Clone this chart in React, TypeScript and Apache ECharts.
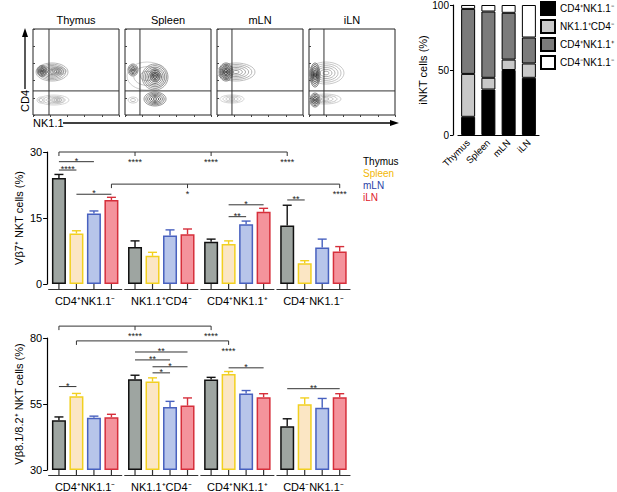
import React, { useEffect, useRef } from "react";
import * as echarts from "echarts";

const FONT = "'Liberation Sans', Arial, Helvetica, sans-serif";

// ---------- categories ----------
const tissues = ["Thymus", "Spleen", "mLN", "iLN"];
const subsets = ["CD4⁺NK1.1⁻", "NK1.1⁺CD4⁻", "CD4⁺NK1.1⁺", "CD4⁻NK1.1⁻"];

// ---------- colours ----------
const tissueLegendColors = ["#000000", "#f2b705", "#2b3fa6", "#e0202b"];
const barFill = ["#9ea5a1", "#fbe6c4", "#b7c5ea", "#f4939c"];
const barEdge = ["#111111", "#f2d020", "#4861bf", "#d62f3b"];
const subsetFill = ["#000000", "#c8c8c8", "#7b7b7b", "#ffffff"];

// ---------- iNKT composition (%), per tissue ----------
const pctCD4pNK1m = [14, 35, 50, 44];
const pctNK1pCD4m = [33, 9, 8, 11];
const pctCD4pNK1p = [50, 51, 36, 20];
const pctCD4mNK1m = [3, 5, 6, 25];

// ---------- Vb7+ NKT cells (%), per subset ----------
const vb7Thymus = [24.1, 8.4, 9.6, 13.3];
const vb7Spleen = [11.5, 6.4, 9.1, 4.7];
const vb7MLN = [16.0, 11.0, 13.6, 8.3];
const vb7ILN = [19.1, 11.3, 16.4, 7.4];
const vb7ThymusErr = [0.8, 1.4, 0.6, 4.6];
const vb7SpleenErr = [0.6, 0.8, 0.7, 0.6];
const vb7MLNErr = [0.6, 1.3, 0.7, 1.9];
const vb7ILNErr = [0.6, 1.2, 0.8, 1.1];

// ---------- Vb8.1/8.2+ NKT cells (%), per subset ----------
const vb8Thymus = [48.8, 64.4, 64.3, 46.6];
const vb8Spleen = [57.9, 63.5, 66.4, 54.9];
const vb8MLN = [49.8, 53.9, 59.0, 53.6];
const vb8ILN = [50.0, 54.4, 57.6, 57.6];
const vb8ThymusErr = [1.3, 1.5, 0.8, 2.8];
const vb8SpleenErr = [1.1, 1.4, 0.9, 2.4];
const vb8MLNErr = [0.6, 2.1, 1.1, 3.5];
const vb8ILNErr = [1.1, 2.9, 1.3, 1.3];

// ---------- significance: pairs [group, bar, group, bar, y, label] ----------
const vb7Pairs: [number, number, number, number, number, string][] = [
  [0, 0, 0, 2, 27.8, "*"],
  [0, 0, 0, 1, 25.9, "****"],
  [0, 1, 0, 3, 20.4, "*"],
  [2, 1, 2, 3, 18.0, "*"],
  [2, 1, 2, 2, 15.3, "**"],
  [3, 0, 3, 1, 19.1, "**"],
];
const vb8Pairs: [number, number, number, number, number, string][] = [
  [1, 0, 1, 3, 74.7, "**"],
  [1, 0, 1, 2, 71.7, "**"],
  [1, 1, 1, 3, 69.1, "*"],
  [1, 1, 1, 2, 66.8, "*"],
  [0, 0, 0, 1, 61.6, "*"],
  [2, 1, 2, 3, 68.7, "*"],
  [3, 0, 3, 3, 60.8, "**"],
];
// spans: from [group, bar] at y, with targets [group, bar, label]
const vb7Spans = [
  { from: [0, 0], y: 30, to: [[1, 0, "****"], [2, 0, "****"], [3, 0, "****"]] },
  { from: [0, 3], y: 22.7, to: [[1, 3, "*"], [3, 3, "****"]] },
];
const vb8Spans = [
  { from: [0, 0], y: 84.5, to: [[1, 0, "****"], [2, 0, "****"]] },
  { from: [0, 1], y: 78.9, to: [[2, 1, "****"]] },
];

// ---------- flow panels ----------
const flowLefts = [33, 125, 217, 309];
const flowGates = [[18.6, 28], [17.4, 28], [17.4, 28], [17.4, 28]];
// contour blobs [cx, cy, rx, ry, rings, tone] in panel units (0-100)
const flowThymus = [
  [22.1, 50, 18.6, 10.5, 7, 0.55],
  [10.5, 51.2, 5.8, 6.4, 5, 1],
  [29.1, 51.2, 9.3, 4.7, 4, 0.65],
  [24.4, 17.4, 17.4, 5.8, 4, 0.3],
  [9.3, 17.4, 4.7, 3.5, 2, 0.35],
  [29.1, 17.4, 7, 3.5, 3, 0.4],
];
const flowSpleen = [
  [9.3, 52.3, 5.8, 7, 5, 0.95],
  [25.6, 45.3, 23.3, 16.3, 3, 0.35],
  [34.9, 44.2, 15.1, 15.1, 8, 0.75],
  [34.9, 46.5, 5.8, 7, 4, 0.95],
  [34.9, 18.6, 12.8, 8.1, 6, 0.85],
  [9.3, 17.4, 5.8, 3.5, 2, 0.35],
];
const flowMLN = [
  [22.1, 50, 22.1, 10.5, 6, 0.5],
  [10.5, 50, 8.1, 10.5, 7, 1],
  [17.4, 18.6, 14, 4.7, 4, 0.3],
];
const flowILN = [
  [19.8, 48.8, 20.9, 12.8, 6, 0.4],
  [7, 46.5, 5.8, 14, 7, 1],
  [18.6, 18.6, 18.6, 5.8, 4, 0.35],
  [7, 17.4, 5.8, 8.1, 5, 1],
];
const flowBlobs = [flowThymus, flowSpleen, flowMLN, flowILN];

const STEP = 17.5;
const barOffset = (b: number) => (b - 1.5) * STEP;
const lineStyle = { stroke: "#333", lineWidth: 1 };
const starStyle = (text: string) => ({
  text,
  fill: "#222",
  fontSize: 9,
  fontFamily: FONT,
  align: "center",
  verticalAlign: "middle",
  textAlign: "center",
  textVerticalAlign: "middle",
});

function errorSeries(gi: number, means: number[], errs: number[], t: number) {
  return {
    type: "custom",
    name: "err" + gi + t,
    xAxisIndex: gi,
    yAxisIndex: gi,
    clip: false,
    silent: true,
    z: 3,
    encode: { x: 0, y: 1 },
    data: means.map((m, g) => [g, m, m + errs[g]]),
    renderItem: (_p: any, api: any) => {
      const base = api.coord([api.value(0), api.value(1)]);
      const top = api.coord([api.value(0), api.value(2)]);
      const x = base[0] + barOffset(t);
      const st = { stroke: barEdge[t], lineWidth: 1.4 };
      return {
        type: "group",
        children: [
          { type: "line", shape: { x1: x, y1: base[1], x2: x, y2: top[1] }, style: st },
          { type: "line", shape: { x1: x - 4.5, y1: top[1], x2: x + 4.5, y2: top[1] }, style: st },
        ],
      };
    },
  };
}

function pairSeries(gi: number, pairs: [number, number, number, number, number, string][]) {
  return {
    type: "custom",
    name: "pairs" + gi,
    xAxisIndex: gi,
    yAxisIndex: gi,
    clip: false,
    silent: true,
    z: 4,
    encode: { x: 0, y: 4 },
    data: pairs.map((p) => [p[0], p[1], p[2], p[3], p[4]]),
    renderItem: (params: any, api: any) => {
      const y = api.value(4);
      const p1 = api.coord([api.value(0), y]);
      const p2 = api.coord([api.value(2), y]);
      const x1 = p1[0] + barOffset(api.value(1));
      const x2 = p2[0] + barOffset(api.value(3));
      return {
        type: "group",
        children: [
          { type: "line", shape: { x1, y1: p1[1], x2, y2: p1[1] }, style: lineStyle },
          { type: "text", x: (x1 + x2) / 2, y: p1[1] - 1, style: starStyle(pairs[params.dataIndex][5]) },
        ],
      };
    },
  };
}

function spanSeries(gi: number, spans: { from: number[]; y: number; to: any[] }[]) {
  return {
    type: "custom",
    name: "spans" + gi,
    xAxisIndex: gi,
    yAxisIndex: gi,
    clip: false,
    silent: true,
    z: 4,
    encode: { x: 0, y: 2 },
    data: spans.map((s) => [s.from[0], s.from[1], s.y]),
    renderItem: (params: any, api: any) => {
      const s = spans[params.dataIndex];
      const y = api.value(2);
      const p0 = api.coord([api.value(0), y]);
      const x0 = p0[0] + barOffset(api.value(1));
      const yy = p0[1];
      const children: any[] = [
        { type: "line", shape: { x1: x0, y1: yy, x2: x0, y2: yy + 4 }, style: lineStyle },
      ];
      let xEnd = x0;
      s.to.forEach((t: any[]) => {
        const pt = api.coord([t[0], y]);
        const xt = pt[0] + barOffset(t[1]);
        xEnd = Math.max(xEnd, xt);
        children.push({ type: "line", shape: { x1: xt, y1: yy, x2: xt, y2: yy + 4 }, style: lineStyle });
        children.push({ type: "text", x: xt, y: yy + 10, style: starStyle(t[2]) });
      });
      children.push({ type: "line", shape: { x1: x0, y1: yy, x2: xEnd, y2: yy }, style: lineStyle });
      return { type: "group", children };
    },
  };
}

function groupAxisSeries(gi: number, min: number) {
  return {
    type: "custom",
    name: "gaxis" + gi,
    xAxisIndex: gi,
    yAxisIndex: gi,
    clip: false,
    silent: true,
    z: 4,
    encode: { x: 0, y: 1 },
    data: subsets.map((_s, g) => [g, min]),
    renderItem: (_p: any, api: any) => {
      const c = api.coord([api.value(0), api.value(1)]);
      const yb = c[1];
      const yl = yb + 5.5;
      const st = { stroke: "#333", lineWidth: 1.2 };
      const children: any[] = [
        { type: "line", shape: { x1: c[0] - 37, y1: yl, x2: c[0] + 37, y2: yl }, style: st },
      ];
      for (let b = 0; b < 4; b++) {
        const x = c[0] + barOffset(b);
        children.push({ type: "line", shape: { x1: x, y1: yb, x2: x, y2: yl }, style: st });
      }
      return { type: "group", children };
    },
  };
}

function blobSeries(p: number) {
  const gi = 3 + p;
  const blobs = flowBlobs[p];
  return {
    type: "custom",
    name: "flow" + p,
    xAxisIndex: gi,
    yAxisIndex: gi,
    clip: true,
    silent: true,
    encode: { x: 0, y: 1 },
    data: blobs.map((b) => b.slice()),
    renderItem: (_params: any, api: any) => {
      const c = api.coord([api.value(0), api.value(1)]);
      const sz = api.size([api.value(2), api.value(3)]);
      const rings = api.value(4);
      const tone = api.value(5);
      const children: any[] = [];
      for (let k = rings; k >= 1; k--) {
        const t = k / rings;
        const g = Math.round(245 * (1 - tone * (1 - 0.45 * t)));
        children.push({
          type: "ellipse",
          shape: { cx: c[0], cy: c[1], rx: sz[0] * t, ry: sz[1] * t },
          style: { fill: "none", stroke: `rgb(${g},${g},${g})`, lineWidth: 0.85 },
        });
      }
      return { type: "group", children };
    },
  };
}

function gateSeries(p: number) {
  const gi = 3 + p;
  return {
    type: "custom",
    name: "gate" + p,
    xAxisIndex: gi,
    yAxisIndex: gi,
    clip: true,
    silent: true,
    z: 5,
    encode: { x: 0, y: 1 },
    data: [flowGates[p]],
    renderItem: (_params: any, api: any) => {
      const gx = api.value(0);
      const gy = api.value(1);
      const a = api.coord([gx, 0]);
      const b = api.coord([gx, 100]);
      const c = api.coord([0, gy]);
      const d = api.coord([100, gy]);
      const st = { stroke: "#333", lineWidth: 1 };
      return {
        type: "group",
        children: [
          { type: "line", shape: { x1: a[0], y1: a[1], x2: b[0], y2: b[1] }, style: st },
          { type: "line", shape: { x1: c[0], y1: c[1], x2: d[0], y2: d[1] }, style: st },
        ],
      };
    },
  };
}

function buildOption(): any {
  const axisText = { color: "#000", fontFamily: FONT };
  const grids: any[] = [
    { left: 458, top: 5, width: 81, height: 130 },
    { left: 31.5, top: 152, width: 320, height: 132 },
    { left: 31.5, top: 338, width: 320, height: 133 },
  ];
  flowLefts.forEach((l) =>
    grids.push({ left: l, top: 29, width: 86, height: 86, show: true, borderColor: "#222", borderWidth: 1, backgroundColor: "transparent" })
  );

  const xAxes: any[] = [
    {
      type: "category",
      gridIndex: 0,
      data: tissues,
      axisLine: { lineStyle: { color: "#000", width: 1.2 } },
      axisTick: { alignWithLabel: true, length: 4, lineStyle: { color: "#000" } },
      axisLabel: { ...axisText, fontSize: 9.5, rotate: 45, margin: 6, interval: 0 },
    },
    {
      type: "category",
      gridIndex: 1,
      data: subsets,
      axisLine: { show: false },
      axisTick: { show: false },
      axisLabel: { ...axisText, fontSize: 11, margin: 11, interval: 0 },
    },
    {
      type: "category",
      gridIndex: 2,
      data: subsets,
      axisLine: { show: false },
      axisTick: { show: false },
      axisLabel: { ...axisText, fontSize: 11, margin: 11, interval: 0 },
    },
  ];
  const yAxes: any[] = [
    {
      type: "value",
      gridIndex: 0,
      min: 0,
      max: 100,
      interval: 50,
      offset: 5,
      name: "iNKT cells (%)",
      nameLocation: "middle",
      nameGap: 24,
      nameTextStyle: { ...axisText, fontSize: 11 },
      axisLine: { show: true, lineStyle: { color: "#000", width: 1.2 } },
      axisTick: { show: true, length: 3, lineStyle: { color: "#000" } },
      axisLabel: { ...axisText, fontSize: 10, margin: 4 },
      splitLine: { show: false },
    },
    {
      type: "value",
      gridIndex: 1,
      min: 0,
      max: 30,
      interval: 15,
      name: "Vβ7⁺ NKT cells (%)",
      nameLocation: "middle",
      nameGap: 23,
      nameTextStyle: { ...axisText, fontSize: 11 },
      axisLine: { show: true, lineStyle: { color: "#000", width: 1.2 } },
      axisTick: { show: true, length: 4, lineStyle: { color: "#000" } },
      axisLabel: { ...axisText, fontSize: 11, margin: 5 },
      splitLine: { show: false },
    },
    {
      type: "value",
      gridIndex: 2,
      min: 30,
      max: 80,
      interval: 25,
      startValue: 30,
      name: "Vβ8.1/8.2⁺ NKT cells (%)",
      nameLocation: "middle",
      nameGap: 23,
      nameTextStyle: { ...axisText, fontSize: 11 },
      axisLine: { show: true, lineStyle: { color: "#000", width: 1.2 } },
      axisTick: { show: true, length: 4, lineStyle: { color: "#000" } },
      axisLabel: { ...axisText, fontSize: 11, margin: 5 },
      splitLine: { show: false },
    },
  ];
  flowLefts.forEach((_l, p) => {
    xAxes.push({
      type: "value",
      gridIndex: 3 + p,
      min: 0,
      max: 100,
      interval: 20,
      axisLine: { show: false },
      axisTick: { show: true, length: 2, lineStyle: { color: "#444" } },
      axisLabel: { show: false },
      splitLine: { show: false },
    });
    yAxes.push({
      type: "value",
      gridIndex: 3 + p,
      min: 0,
      max: 100,
      interval: 20,
      axisLine: { show: false },
      axisTick: { show: true, inside: true, length: 2, lineStyle: { color: "#444" } },
      axisLabel: { show: false },
      splitLine: { show: false },
    });
  });

  const comp = [pctCD4pNK1m, pctNK1pCD4m, pctCD4pNK1p, pctCD4mNK1m];
  const vb7 = [vb7Thymus, vb7Spleen, vb7MLN, vb7ILN];
  const vb7e = [vb7ThymusErr, vb7SpleenErr, vb7MLNErr, vb7ILNErr];
  const vb8 = [vb8Thymus, vb8Spleen, vb8MLN, vb8ILN];
  const vb8e = [vb8ThymusErr, vb8SpleenErr, vb8MLNErr, vb8ILNErr];

  const series: any[] = [];
  subsets.forEach((n, i) =>
    series.push({
      type: "bar",
      name: n,
      stack: "comp",
      xAxisIndex: 0,
      yAxisIndex: 0,
      barWidth: 14,
      data: comp[i],
      itemStyle: { color: subsetFill[i], borderColor: "#000", borderWidth: 1 },
    })
  );
  [
    [1, vb7, vb7e],
    [2, vb8, vb8e],
  ].forEach(([gi, means, errs]: any) => {
    tissues.forEach((t, i) =>
      series.push({
        type: "bar",
        name: t,
        xAxisIndex: gi,
        yAxisIndex: gi,
        barWidth: 14,
        barGap: "25%",
        data: means[i],
        itemStyle: { color: barFill[i], borderColor: barEdge[i], borderWidth: 1.5 },
      })
    );
    tissues.forEach((_t, i) => series.push(errorSeries(gi, means[i], errs[i], i)));
    series.push(groupAxisSeries(gi, gi === 1 ? 0 : 30));
  });
  series.push(pairSeries(1, vb7Pairs));
  series.push(spanSeries(1, vb7Spans));
  series.push(pairSeries(2, vb8Pairs));
  series.push(spanSeries(2, vb8Spans));
  flowLefts.forEach((_l, p) => {
    series.push(blobSeries(p));
    series.push(gateSeries(p));
  });

  const graphic: any[] = [];
  tissues.forEach((t, p) =>
    graphic.push({
      type: "text",
      x: flowLefts[p] + 43,
      y: 20,
      style: { text: t, fill: "#000", fontSize: 11, fontFamily: FONT, align: "center", verticalAlign: "middle", textAlign: "center", textVerticalAlign: "middle" },
    })
  );
  graphic.push(
    { type: "line", shape: { x1: 25, y1: 36, x2: 25, y2: 89 }, style: { stroke: "#000", lineWidth: 1.3 } },
    { type: "polygon", shape: { points: [[25, 28], [22, 37], [28, 37]] }, style: { fill: "#000" } },
    {
      type: "text",
      x: 25,
      y: 101,
      rotation: Math.PI / 2,
      style: { text: "CD4", fill: "#000", fontSize: 11, fontFamily: FONT, align: "center", verticalAlign: "middle", textAlign: "center", textVerticalAlign: "middle" },
    },
    {
      type: "text",
      x: 33,
      y: 123,
      style: { text: "NK1.1", fill: "#000", fontSize: 11, fontFamily: FONT, align: "left", verticalAlign: "middle", textAlign: "left", textVerticalAlign: "middle" },
    },
    { type: "line", shape: { x1: 63, y1: 123, x2: 391, y2: 123 }, style: { stroke: "#000", lineWidth: 1.3 } },
    { type: "polygon", shape: { points: [[399, 123], [390, 120], [390, 126]] }, style: { fill: "#000" } }
  );

  return {
    animation: false,
    textStyle: { fontFamily: FONT },
    grid: grids,
    xAxis: xAxes,
    yAxis: yAxes,
    legend: [
      {
        orient: "vertical",
        left: 540,
        top: 1,
        padding: 0,
        itemWidth: 14,
        itemHeight: 13,
        itemGap: 3,
        selectedMode: false,
        icon: "rect",
        textStyle: { fontSize: 10, color: "#000", fontFamily: FONT },
        data: subsets,
      },
      {
        orient: "vertical",
        left: 357,
        top: 156,
        padding: 0,
        itemWidth: 0,
        itemHeight: 0,
        itemGap: 2,
        selectedMode: false,
        icon: "rect",
        textStyle: { fontSize: 10, fontFamily: FONT },
        data: tissues.map((t, i) => ({ name: t, textStyle: { color: tissueLegendColors[i] } })),
      },
    ],
    series,
    graphic,
  };
}

export default function App() {
  const ref = useRef<HTMLDivElement>(null);
  useEffect(() => {
    document.body.style.margin = "0";
    const chart = echarts.init(ref.current!, null, { renderer: "svg" });
    chart.setOption(buildOption());
    return () => chart.dispose();
  }, []);
  return <div ref={ref} style={{ width: 617, height: 492 }} />;
}
